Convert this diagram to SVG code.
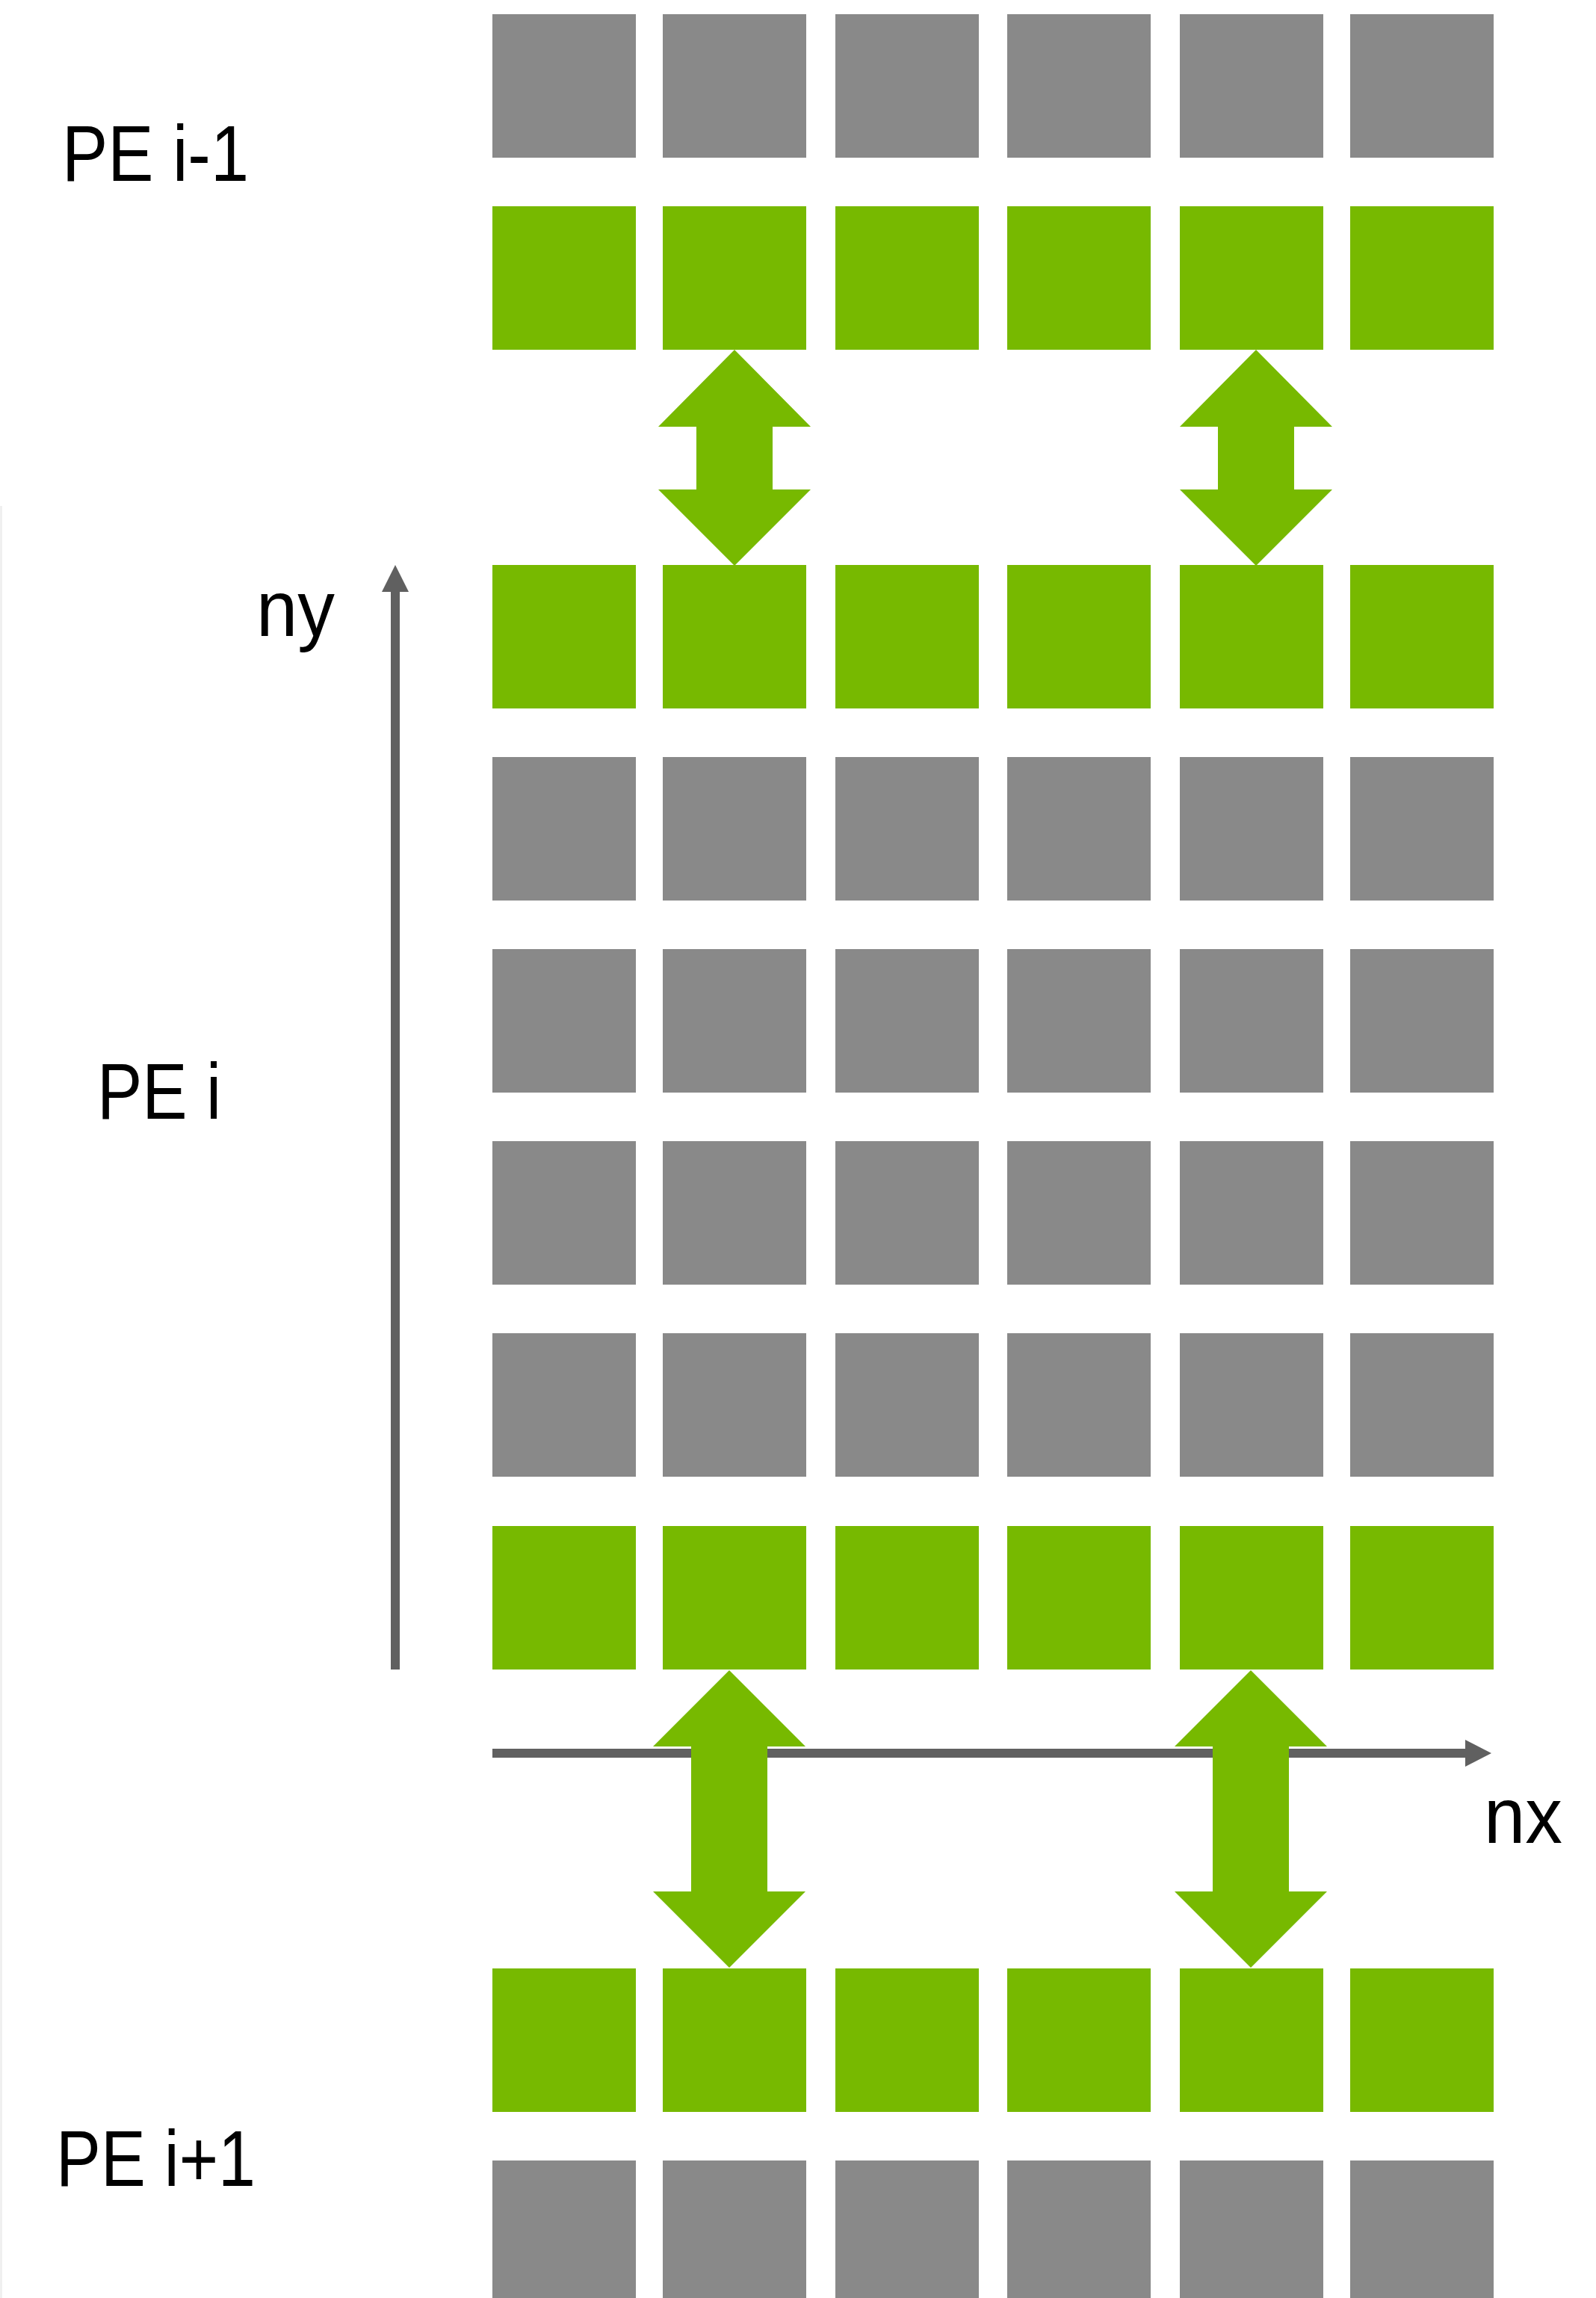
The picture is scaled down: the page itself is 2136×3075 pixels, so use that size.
<svg xmlns="http://www.w3.org/2000/svg" width="2136" height="3075" viewBox="0 0 2136 3075">
<style>
.g{fill:#898989}
.v{fill:#77b900}
.ax{stroke:#606060;stroke-width:12;fill:none}
.ah{fill:#606060}
.t{font-family:"Liberation Sans",Arial,sans-serif;font-size:106px;fill:#000}
</style>
<defs>
<rect id="c" width="192" height="192"/>
<polygon id="arU" points="0,0 102,103 51,103 51,187 102,187 0,289 -102,187 -51,187 -51,103 -102,103"/>
<polygon id="arL" points="0,0 102,102 51,102 51,296 102,296 0,398 -102,296 -51,296 -51,102 -102,102"/>
</defs>
<rect width="2136" height="3075" fill="#fff"/>
<rect x="0" y="677" width="3" height="2398" fill="#f0f0f0"/>
<g id="row1" class="g">
<use href="#c" x="659" y="19"/><use href="#c" x="887" y="19"/><use href="#c" x="1118" y="19"/><use href="#c" x="1348" y="19"/><use href="#c" x="1579" y="19"/><use href="#c" x="1807" y="19"/>
</g>
<g id="row2" class="v">
<use href="#c" x="659" y="276"/><use href="#c" x="887" y="276"/><use href="#c" x="1118" y="276"/><use href="#c" x="1348" y="276"/><use href="#c" x="1579" y="276"/><use href="#c" x="1807" y="276"/>
</g>
<g id="row3" class="v">
<use href="#c" x="659" y="756"/><use href="#c" x="887" y="756"/><use href="#c" x="1118" y="756"/><use href="#c" x="1348" y="756"/><use href="#c" x="1579" y="756"/><use href="#c" x="1807" y="756"/>
</g>
<g id="row4" class="g">
<use href="#c" x="659" y="1013"/><use href="#c" x="887" y="1013"/><use href="#c" x="1118" y="1013"/><use href="#c" x="1348" y="1013"/><use href="#c" x="1579" y="1013"/><use href="#c" x="1807" y="1013"/>
</g>
<g id="row5" class="g">
<use href="#c" x="659" y="1270"/><use href="#c" x="887" y="1270"/><use href="#c" x="1118" y="1270"/><use href="#c" x="1348" y="1270"/><use href="#c" x="1579" y="1270"/><use href="#c" x="1807" y="1270"/>
</g>
<g id="row6" class="g">
<use href="#c" x="659" y="1527"/><use href="#c" x="887" y="1527"/><use href="#c" x="1118" y="1527"/><use href="#c" x="1348" y="1527"/><use href="#c" x="1579" y="1527"/><use href="#c" x="1807" y="1527"/>
</g>
<g id="row7" class="g">
<use href="#c" x="659" y="1784"/><use href="#c" x="887" y="1784"/><use href="#c" x="1118" y="1784"/><use href="#c" x="1348" y="1784"/><use href="#c" x="1579" y="1784"/><use href="#c" x="1807" y="1784"/>
</g>
<g id="row8" class="v">
<use href="#c" x="659" y="2042"/><use href="#c" x="887" y="2042"/><use href="#c" x="1118" y="2042"/><use href="#c" x="1348" y="2042"/><use href="#c" x="1579" y="2042"/><use href="#c" x="1807" y="2042"/>
</g>
<g id="row9" class="v">
<use href="#c" x="659" y="2634"/><use href="#c" x="887" y="2634"/><use href="#c" x="1118" y="2634"/><use href="#c" x="1348" y="2634"/><use href="#c" x="1579" y="2634"/><use href="#c" x="1807" y="2634"/>
</g>
<g id="row10" class="g">
<use href="#c" x="659" y="2891"/><use href="#c" x="887" y="2891"/><use href="#c" x="1118" y="2891"/><use href="#c" x="1348" y="2891"/><use href="#c" x="1579" y="2891"/><use href="#c" x="1807" y="2891"/>
</g>
<g id="axes">
<line class="ax" x1="529" y1="2234" x2="529" y2="790"/>
<polygon class="ah" points="529,756 547,792 511,792"/>
<line class="ax" x1="659" y1="2346" x2="1963" y2="2346"/>
<polygon class="ah" points="1996,2346 1961,2328 1961,2364"/>
</g>
<g id="connectors" class="v">
<use href="#arU" x="983" y="468"/>
<use href="#arU" x="1681" y="468"/>
<use href="#arL" x="976" y="2235"/>
<use href="#arL" x="1674" y="2235"/>
</g>
<g id="labels" class="t">
<text x="83" y="242" textLength="250" lengthAdjust="spacingAndGlyphs">PE i-1</text>
<text x="130" y="1497" textLength="166" lengthAdjust="spacingAndGlyphs">PE i</text>
<text x="75" y="2925" textLength="267" lengthAdjust="spacingAndGlyphs">PE i+1</text>
<text x="343" y="851" textLength="105" lengthAdjust="spacingAndGlyphs">ny</text>
<text x="1986" y="2466" textLength="105" lengthAdjust="spacingAndGlyphs">nx</text>
</g>
</svg>
